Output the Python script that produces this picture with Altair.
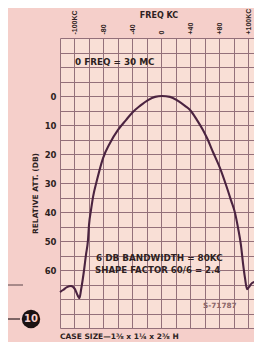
import altair as alt
import pandas as pd

# Curve: horizontal position in grid cells from centre, attenuation in dB
x_cells = [-7.0, -6.79, -6.52, -6.24, -5.97, -5.76, -5.66,
           -5.55, -5.34, -5.21, -5.07, -5.0, -4.86, -4.72, -4.45, -4.03, -3.55,
           -3.0, -2.45, -1.97, -1.48, -0.93, -0.45, 0.03, 0.59, 1.14, 1.62,
           1.97, 2.45, 2.86, 3.14, 3.55, 4.03, 4.45, 4.79, 5.07, 5.28, 5.48,
           5.62, 5.76, 5.90, 6.03, 6.24, 6.52, 6.79, 7.0]
att_db = [67.6, 66.9, 65.9, 65.5, 66.6, 69.0, 69.7,
          66.9, 60.0, 54.8, 49.7, 44.5, 39.3, 34.8, 29.0, 21.4, 16.2,
          11.7, 8.3, 5.5, 3.4, 1.4, 0.3, 0.0, 0.3, 1.7, 3.4,
          4.8, 8.3, 11.7, 14.5, 19.3, 24.8, 30.7, 35.9, 40.3, 45.5, 51.4,
          57.6, 62.8, 66.6, 65.9, 64.5, 64.1, 64.5, 64.8]

x_tick_pos = [-6, -4, -2, 0, 2, 4, 6]
x_tick_labels = ["-100KC", "-80", "-40", "0", "+40", "+80", "+100KC"]
y_tick_labels = [0, 10, 20, 30, 40, 50, 60]

df = pd.DataFrame({"u": x_cells, "db": att_db})

FONT = "DejaVu Sans"
NARROW = "Liberation Sans"
INK = "#2e1f22"
GRID = "#94707a"
CURVE = "#4b2340"
BG = "#f5cfca"
PLOT_BG = "#f9dfd6"

x_expr = " : ".join(f"datum.value == {p} ? '{l}'" for p, l in zip(x_tick_pos, x_tick_labels)) + " : ''"
y_expr = "indexof([" + ",".join(str(v) for v in y_tick_labels) + "], datum.value) >= 0 ? datum.label : ''"

x_enc = alt.X(
    "u:Q",
    scale=alt.Scale(domain=[-7, 6.38], nice=False, zero=False),
    axis=alt.Axis(
        orient="top", values=list(range(-7, 7)), labelExpr=x_expr,
        grid=True, gridColor=GRID, gridWidth=1, gridOpacity=1,
        ticks=False, domain=False, labelAngle=270, labelAlign="left",
        labelBaseline="middle", labelPadding=4, labelFont=NARROW,
        labelFontWeight="bold", labelFontSize=7, labelColor=INK,
        labelOverlap=False, title=None,
    ),
)
y_enc = alt.Y(
    "db:Q",
    scale=alt.Scale(domain=[-20, 80], reverse=True, nice=False, zero=False),
    axis=alt.Axis(
        values=list(range(-20, 81, 5)), labelExpr=y_expr,
        grid=True, gridColor=GRID, gridWidth=1, gridOpacity=1,
        ticks=False, domain=False, labelPadding=4, labelFont=FONT,
        labelFontWeight="bold", labelFontSize=8.5, labelColor=INK,
        labelOverlap=False,
        title="RELATIVE ATT. (DB)", titleFont=FONT, titleFontWeight="bold",
        titleFontSize=7.5, titleColor=INK, titleAngle=270, titleX=-25,
        titleY=155, titleAlign="center", titleBaseline="middle",
    ),
)

line = alt.Chart(df).mark_line(color=CURVE, strokeWidth=2.1, interpolate="monotone").encode(
    x=x_enc, y=y_enc
)


def label(txt, x, y, size, color=INK, align="left", font=FONT):
    return alt.Chart(pd.DataFrame({"t": [txt]})).mark_text(
        font=font, fontWeight="bold", fontSize=size, color=color,
        align=align, baseline="middle",
    ).encode(text="t:N", x=alt.value(x), y=alt.value(y))


texts = [
    label("FREQ KC", 99, -22, 8, align="center"),
    label("0 FREQ = 30 MC", 15, 24, 8.8),
    label("6 DB BANDWIDTH = 80KC", 36, 220, 8.8),
    label("SHAPE FACTOR 60/6 = 2.4", 35, 232, 8.6),
    label("S-71787", 143, 268, 7.3, color="#8a6468"),
    label("CASE SIZE\u20141\u215c x 1\u00bc x 2\u215c H", 0, 299, 7.5),
]

disc = alt.Chart(pd.DataFrame({"t": ["10"]})).mark_point(
    filled=True, shape="circle", size=340, color="#1a1212", opacity=1
).encode(x=alt.value(-29), y=alt.value(281))
disc_txt = label("10", -29, 281, 10, color=BG, align="center")

rule1 = alt.Chart(pd.DataFrame({"t": [0]})).mark_rule(color=INK, strokeWidth=1.2).encode(
    x=alt.value(-60), x2=alt.value(-40), y=alt.value(281)
)
rule2 = alt.Chart(pd.DataFrame({"t": [0]})).mark_rule(color="#5a4448", strokeWidth=1).encode(
    x=alt.value(-60), x2=alt.value(-37), y=alt.value(247)
)

chart = alt.layer(line, *texts, rule1, rule2, disc, disc_txt).properties(
    width=194, height=290,
    autosize=alt.AutoSizeParams(type="none"),
    padding={"left": 52, "top": 30, "right": 0, "bottom": 14},
).configure(background=BG).configure_view(fill=PLOT_BG, stroke="transparent", strokeWidth=0)

chart.save("out.html", embed_options={"renderer": "svg", "actions": False})
